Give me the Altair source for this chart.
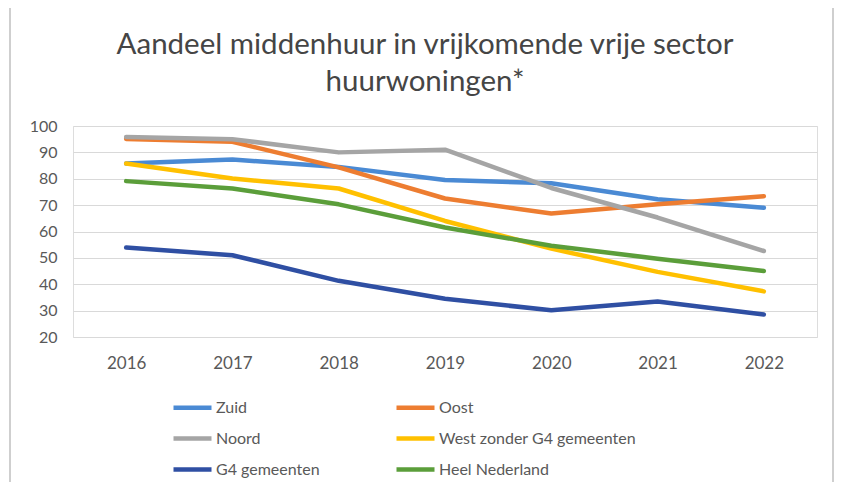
import altair as alt
import pandas as pd

years = ["2016", "2017", "2018", "2019", "2020", "2021", "2022"]
series = ["Zuid", "Oost", "Noord", "West zonder G4 gemeenten", "G4 gemeenten", "Heel Nederland"]
zuid = [85.8, 87.3, 84.5, 79.5, 78.3, 72.2, 69.0]
oost = [95.1, 94.0, 84.3, 72.5, 66.8, 70.3, 73.4]
noord = [95.8, 95.0, 90.0, 91.0, 76.5, 65.3, 52.6]
west = [85.8, 80.1, 76.3, 64.0, 53.5, 44.7, 37.3]
g4 = [53.9, 51.0, 41.3, 34.5, 30.1, 33.5, 28.5]
heel = [79.1, 76.3, 70.3, 61.5, 54.6, 49.7, 45.0]

colors = {"Zuid": "#4a8ad4", "Oost": "#ed7d31", "Noord": "#a5a5a5",
          "West zonder G4 gemeenten": "#ffc000", "G4 gemeenten": "#2f4fa3",
          "Heel Nederland": "#5b9e3a"}
widths = {"Zuid": 4.5, "Oost": 4.5, "Noord": 4.5, "West zonder G4 gemeenten": 4.5,
          "G4 gemeenten": 4.5, "Heel Nederland": 6}
# legend is filled column by column: left column Zuid, Noord, G4; right column Oost, West, Heel
legend_order = ["Zuid", "Noord", "G4 gemeenten", "Oost", "West zonder G4 gemeenten", "Heel Nederland"]
y_ticks = [20, 30, 40, 50, 60, 70, 80, 90, 100]
title_lines = ["Aandeel middenhuur in vrijkomende vrije sector", "huurwoningen*"]

rows = []
for k, (name, vals) in enumerate(zip(series, [zuid, oost, noord, west, g4, heel])):
    for yr, v in zip(years, vals):
        rows.append({"Jaar": yr, "Serie": name, "Waarde": v, "volg": k})
df = pd.DataFrame(rows)

FONT = "Lato"
GREY = "#595959"

border = alt.Chart(pd.DataFrame({"a": [0]})).mark_rect(
    fill="white", fillOpacity=0, stroke="#cfcfcf", strokeWidth=2, strokeOpacity=1
).encode(
    x=alt.value(-63), x2=alt.value(760), y=alt.value(-121), y2=alt.value(420)
)

lines = alt.Chart(df).mark_line(strokeCap="round", strokeJoin="round").encode(
    x=alt.X(
        "Jaar:O",
        sort=years,
        scale=alt.Scale(type="point", padding=0.5),
        axis=alt.Axis(
            title=None, labelAngle=0, domain=False, ticks=False, grid=False,
            labelPadding=18, labelFontSize=17, labelColor=GREY, labelFont=FONT,
        ),
    ),
    y=alt.Y(
        "Waarde:Q",
        scale=alt.Scale(domain=[20, 100], nice=False, zero=False),
        axis=alt.Axis(
            title=None, values=y_ticks, domain=False, ticks=False,
            gridColor="#d9d9d9", gridWidth=1.2, labelPadding=16,
            labelFontSize=16, labelColor=GREY, labelFont=FONT,
        ),
    ),
    color=alt.Color(
        "Serie:N",
        sort=legend_order,
        scale=alt.Scale(domain=legend_order, range=[colors[s] for s in legend_order]),
        legend=alt.Legend(
            title=None, orient="none", legendX=98, legendY=260, columns=2,
            symbolType="stroke", symbolSize=1444, symbolStrokeWidth=5,
            labelFont=FONT, labelFontSize=16, labelColor=GREY, labelLimit=400,
            columnPadding=67, rowPadding=-6, labelOffset=2, padding=0,
        ),
    ),
    strokeWidth=alt.StrokeWidth(
        "Serie:N", scale=alt.Scale(domain=legend_order, range=[widths[s] for s in legend_order]),
        legend=None,
    ),
    order=alt.Order("volg:Q"),
)

chart = alt.layer(border, lines).properties(
    width=744,
    height=211,
    padding={"left": 65, "top": 118, "right": 18, "bottom": 145},
    autosize=alt.AutoSizeParams(type="none"),
    title=alt.TitleParams(
        text=title_lines, font=FONT, fontSize=29.5, fontWeight="normal",
        color="#454545", anchor="middle", dx=-20, offset=-93, lineHeight=37,
    ),
).configure_view(strokeWidth=0).configure(background="white")

chart.save("out.html", embed_options={"renderer": "svg", "actions": False})
